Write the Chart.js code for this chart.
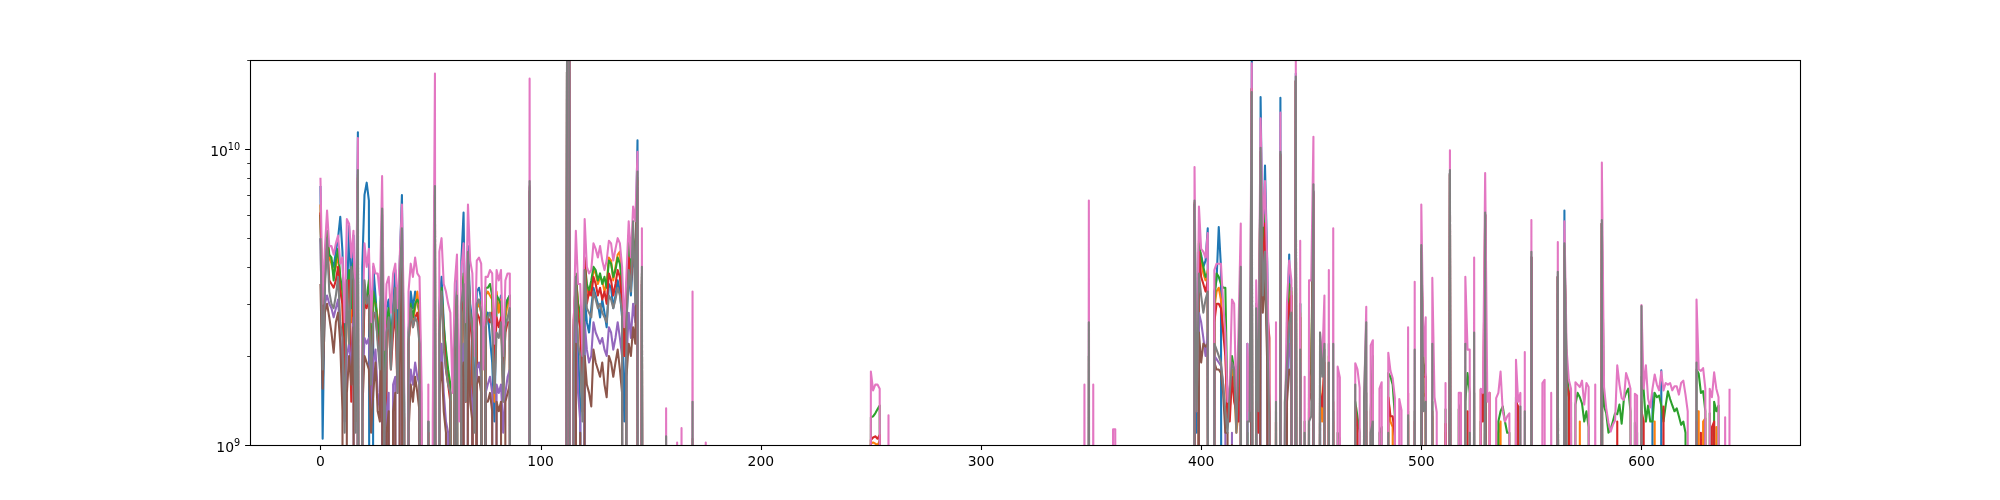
<!DOCTYPE html>
<html>
<head>
<meta charset="utf-8">
<script src="https://cdn.jsdelivr.net/npm/chart.js@4"></script>
<style>
  html, body { margin: 0; padding: 0; background: #fff; }
  #wrap { width: 2000px; height: 500px; }
</style>
</head>
<body>
<div id="wrap"><canvas id="chart" width="2000" height="500"></canvas></div>
<script>
// values are in units of 1e9, written as runs: [first x, [values...]]
// any x that is not listed is 0 (drawn clipped below the log axis, like matplotlib)
const xCount = 641;
const xTicks = [0, 100, 200, 300, 400, 500, 600];
const yMajor = [1e9, 1e10];
const yMinor = [2e9, 3e9, 4e9, 5e9, 6e9, 7e9, 8e9, 9e9, 2e10];

const blue = [
  [0, [7.5,1.05,3.6,4.8,4.3,4.2,4.0,4.5,5.0,5.9, 4.5,2.0,3.0,5.5,3.3,5.1,1.35,11.4,0,4.0, 7.0,7.7,6.7,0,4.0,3.2,2.5,2.2,5.5,0, 2.9,3.1,2.2,3.0,3.9,2.3,4.1,7.0,1.5,0, 2.4,3.3,2.9,3.3,3.0,2.8,0,0,0,1.2, 0,0,7.0,0,3.0,3.7,2.6,2.0,1.7,1.5, 0,2.5,3.6,0,4.2,6.1,1.6,4.7,3.0,2.6, 1.2,3.3,3.4,3.1,0,2.6,2.8,2.3,1.9,1.2, 3.1,2.9,3.2,1.5,3.0,3.1,3.2,0,0,0, 0,0,0,0,0,7.0,0]],
  [111, [0,25,26,0,1.5,3.0,2.1,1.35,0,3.2, 2.6,2.4,2.9,3.4,3.2,3.0,2.7,3.1,2.8,2.5, 3.5,3.4,2.9,3.2,3.6,3.3,2.7,1.2,2.6,3.8, 3.2,4.3,3.9,10.7,0,3.5,0]],
  [397, [6.5,1.1,4.6,4.4,4.0,4.2,5.4,0,0,3.3, 3.6,5.45,4.0,0,0,0,0,0,0,0, 0,1.0,0,0,2.2,0,22,0,2.7,0, 15.0,4.0,8.8,4.2,1.2,0,0,0,0,14.9, 0,0,2.3,4.4,1.19,0,18,0,3.0,0, 0,0,1.3,0,7.2,0,0,1.5,0,0, 0,0,0]],
  [500, [4.5]], [513, [8.3]], [529, [6.0]], [550, [4.3]], [562, [3.7]], [565, [6.2]], [582, [5.6]], [605, [1.5]], [609, [1.79]]
];

const orange = [
  [0, [6.5,2.5,4.0,5.0,4.3,4.1,3.8,4.0,4.4,3.6, 3.0,1.4,2.8,3.6,2.6,3.9,1.2,8.0,0,2.0, 3.2,3.0,3.5,1.7,3.1,3.0,2.7,2.0,5.0,1.1, 2.5,2.8,2.0,2.6,3.1,1.7,3.2,4.5,1.2,0, 2.2,2.9,2.6,2.9,3.3,2.7,0,0,0,1.1, 0,0,6.8,0,2.8,3.2,2.4,2.0,1.7,1.5, 0,2.3,3.2,0,2.9,3.7,1.4,4.0,2.7,2.4, 0,2.9,3.0,2.8,0,3.2,3.3,3.2,3.1,1.4, 3.3,2.8,3.1,1.4,2.7,3.0,3.1,0,0,0, 0,0,0,0,0,7.2,0]],
  [111, [0,25,26,0,2.4,3.7,3.0,2.6,1.3,4.1, 3.4,3.2,3.4,3.9,3.8,3.5,3.7,3.6,3.3,3.5, 4.3,4.2,3.6,4.0,4.4,4.5,3.4,2.0,3.2,4.6, 3.8,4.9,4.3,7.8,0,3.6,0]],
  [250, [1.01,1.02,1.01,1.0,1.03]],
  [397, [6.5,0,4.9,4.2,3.8,3.6,3.9,0,0,2.9, 3.3,3.4,3.1,2.5,2.2,1.2,1.3,1.8,1.6,1.1, 1.3,2.5,0,0,1.0,0,16,0,2.8,1.2, 9.5,3.8,5.5,3.0,1.2,0,0,1.2,0,9.5, 0,0,2.5,3.3,3.3,0,17,0,2.8,0, 0,0,1.5,1.6,7.0,0,0,1.6,1.2,1.9, 0,2.0,0]],
  [460, [1.2]], [470, [1.2]], [475, [1.2]], [478, [1.6]], [485, [1.45,1.2,1.15]], [494, [1.2]],
  [500, [4.5,1.5,1.45]], [505, [1.25]], [511, [1.1]], [513, [8.2]], [529, [6.0]], [535, [1.1,1.2]],
  [550, [4.3]], [562, [3.7]], [565, [4.6,1.55,1.45]], [572, [1.2]], [582, [5.6]], [600, [1.4]],
  [606, [1.2]], [625, [1.3,1.3]], [628, [1.2,1.23]], [634, [1.15]]
];

const green = [
  [0, [6.0,2.5,4.2,5.3,4.4,4.3,3.6,4.2,4.6,3.7, 3.3,1.8,3.2,3.9,2.9,4.1,1.5,8.2,0,1.8, 3.3,3.1,3.6,1.9,3.3,3.0,2.6,2.2,5.2,1.3, 2.6,2.9,2.1,2.7,3.2,1.9,3.4,4.6,1.4,0, 2.4,3.0,2.7,3.0,3.1,3.0,1.1,0,0,1.2, 0,0,7.0,0,2.9,3.4,2.5,2.1,1.8,1.6, 0,2.5,3.3,0,3.0,3.8,1.6,4.2,2.8,2.6, 0,3.0,3.1,2.9,0,3.4,3.4,3.5,3.2,1.6, 3.2,3.1,3.0,1.6,2.9,3.1,3.2,0,0,0, 0,0,0,0,0,7.2,0]],
  [111, [0,25,26,0,2.5,3.8,3.0,2.8,1.4,4.2, 3.5,3.3,3.6,4.0,3.9,3.6,3.8,3.5,3.7,3.4, 4.2,4.1,3.7,3.9,4.3,4.1,3.5,2.2,3.3,5.1, 3.9,5.0,4.4,8.0,0,3.8,0]],
  [250, [1.24,1.25,1.28,1.32,1.36]],
  [349, [2.0]],
  [397, [6.5,0,4.8,4.3,4.0,3.7,3.8,0,0,3.0, 3.8,3.7,3.5,3.4,3.4,1.3,1.4,2.0,1.8,1.2, 1.5,2.6,0,0,1.1,0,16,0,3.0,1.3, 9.8,4.3,6.0,3.4,1.3,0,0,1.3,0,9.6, 0,0,2.6,3.5,3.4,0,17,0,3.0,0, 1.2,0,1.7,1.8,7.1,0,0,1.8,1.85,2.1, 0,2.2,0]],
  [460, [1.3,0,1.1,1.05,0,0,0,0,0,0, 1.4,1.25,1.1,0,0,1.5,0,1.3,2.0,0, 0,1.1,1.15,0,0,1.75,1.7,1.6,1.25,0, 0,0,0,0,1.3,0,0,1.3,0,0, 4.6,1.9,1.7,0,0,1.4,0,0,0,0, 0,1.32,0,8.3,0,0,0,1.32,1.38,0, 1.4,1.75,1.5,0,1.5,0,0,1.2,0,6.0, 0,0,0,0,0,1.2,1.3,1.35,1.2,1.1, 1.1,0,0,1.45,1.2,0,0,0,0,0, 4.3,0,0,0,0,0,0,0,0,0, 0,0,3.7,0,0,4.7,1.82,1.5,1.4,0, 1.37,1.5,1.45,1.38,1.2,1.3,1.15,0,0,0, 0,0,5.6,1.35,1.28,1.1,1.13,1.2,1.28,1.27, 1.37,1.18,1.43,1.5,1.55,1.3,0,1.19,1.1,0, 1.7,1.53,1.2,1.36,1.2,1.2,1.5,1.45,1.47,1.36, 1.2,1.36,1.52,1.43,1.36,1.3,1.33,1.25,1.17,1.2, 1.1,0,0,0,0,1.8,1.74,1.5,1.52,1.3, 0,1.28,0,1.4,1.3,1.36,0,0,0,0, 0]]
];

const red = [
  [0, [6.1,2.4,3.8,5.0,3.6,3.5,3.4,3.6,4.0,3.3, 3.0,1.6,3.4,3.6,1.4,3.6,1.3,8.0,0,1.7, 3.0,2.9,3.2,1.5,2.8,2.7,2.3,1.9,5.0,0, 2.5,2.6,1.8,2.4,2.8,1.5,3.0,4.5,1.2,0, 2.2,2.8,2.5,2.7,2.8,2.4,0,0,0,1.1, 0,0,6.9,0,2.6,3.2,2.3,1.8,1.6,1.4, 0,2.2,3.0,0,2.8,3.3,1.4,4.1,2.6,2.2, 0,2.8,2.7,2.5,0,2.6,2.7,2.6,2.8,1.9, 2.7,2.5,2.7,1.7,2.4,2.6,2.6,0,0,0, 0,0,0,0,0,7.2,0]],
  [111, [0,25,26,0,2.65,3.6,2.7,2.5,1.3,4.3, 3.0,3.3,3.2,3.7,3.5,3.2,3.4,3.1,3.3,3.0, 3.8,3.6,3.2,3.5,3.9,3.7,3.0,2.0,2.8,4.3, 3.5,4.6,4.0,7.8,0,3.5,0]],
  [169, [1.05]],
  [250, [1.04,1.06,1.07,1.05,1.08]],
  [397, [6.6,0,4.5,3.7,3.5,3.3,3.6,0,0,2.6, 3.0,3.0,2.9,2.4,2.0,1.2,1.2,1.7,1.4,1.3, 1.2,2.2,0,0,1.0,0,16,0,2.0,1.1, 9.5,3.6,5.6,2.8,2.3,0,0,1.2,0,9.4, 0,0,2.2,3.0,3.2,0,17,0,2.7,0, 0,0,1.4,1.5,7.0,0,0,1.5,1.35,1.9, 0,1.9,0]],
  [460, [1.4]], [470, [1.35,1.15]], [475, [1.3]], [478, [1.6]], [485, [1.45,1.25,1.25,1.07]], [494, [1.5]],
  [497, [1.2]], [500, [4.5,1.7,1.7]], [505, [1.3]], [511, [1.18]], [513, [8.2]], [518, [1.1]], [521, [1.3]],
  [527, [1.54,1.2,6.0]], [531, [1.5]], [543, [1.4,1.35]], [550, [4.3]], [562, [3.7]], [565, [4.6,1.6,1.5]],
  [582, [5.6]], [589, [1.2]], [600, [1.3,1.2]], [610, [1.35]], [625, [1.2]], [627, [1.1]], [632, [1.15,1.2]]
];

const purple = [
  [0, [5.0,1.8,3.0,3.2,3.0,2.9,2.7,2.9,3.1,2.4, 1.6,1.2,2.0,2.2,1.8,2.7,0,7.5,0,1.5, 2.3,2.2,2.3,1.2,1.9,2.1,1.5,1.3,6.0,0, 1.3,1.5,0,1.6,1.7,0,2.0,4.5,0,0, 1.3,1.8,1.6,1.9,1.7,1.6,0,0,0,0, 0,0,7.2,0,1.7,2.2,1.5,1.2,1.1,0, 0,1.5,2.0,0,1.9,2.2,0,3.8,1.6,1.4, 0,1.8,1.9,1.7,0,1.5,1.6,1.7,1.5,0, 1.6,1.5,1.6,1.1,1.5,1.7,1.8,0,0,0, 0,0,0,0,0,7.4,0]],
  [111, [0,25,26,0,1.3,2.6,1.5,1.2,0,2.6, 2.1,1.9,2.0,2.6,2.4,2.3,2.2,2.3,2.1,2.0, 2.5,2.4,2.1,2.3,2.6,2.3,2.0,0,1.9,2.8, 2.3,3.0,2.6,7.5,0,3.6,0]],
  [397, [6.5,0,2.8,2.6,2.3,2.0,2.4,0,0,2.0, 1.95,1.9,1.85,1.6,1.2,0,0,1.1,0,0, 0,1.4,0,0,0,0,15.5,0,2.0,0, 9.6,3.1,4.5,2.2,0,0,0,0,0,9.5, 0,0,1.6,2.2,1.9,0,17,0,1.9,0, 0,0,0,0,7.1,0,0,1.3,0,0, 0,0,0]],
  [500, [4.4]], [513, [8.2]], [529, [6.0]], [550, [4.3]], [562, [3.7]], [565, [4.6]], [582, [5.6]]
];

const brown = [
  [0, [3.5,1.55,2.8,3.0,2.7,2.4,2.05,2.6,2.8,2.2, 1.3,0,1.5,2.0,1.6,2.5,0,7.8,0,1.3, 2.0,1.9,1.8,1.1,1.5,1.9,1.3,1.2,6.3,0, 1.1,1.3,0,1.3,1.5,0,1.8,4.0,0,0, 1.1,1.6,1.4,1.7,1.5,1.3,0,0,0,0, 0,0,7.3,0,1.5,1.9,1.3,1.1,0,0, 0,1.3,1.7,0,1.7,1.9,0,3.5,1.4,1.2, 0,1.6,1.7,1.5,0,1.4,1.4,1.5,1.3,0, 1.4,1.3,1.4,0,1.4,1.5,1.6,0,0,0, 0,0,0,0,0,7.5,0]],
  [111, [0,25,26,0,1.2,2.2,0,1.1,0,2.0, 1.6,1.5,1.35,2.1,1.9,1.8,1.7,1.9,1.6,1.45, 2.0,1.9,1.7,1.9,2.1,1.8,1.5,0,1.7,2.2, 2.0,2.5,2.2,7.4,0,3.7,0]],
  [397, [6.5,0,2.4,1.9,2.2,2.15,2.2,0,0,1.9, 1.8,1.8,1.75,1.5,1.1,1.1,0,1.0,0,0, 0,1.3,0,0,0,0,15.5,0,2.6,0, 9.8,2.8,3.8,1.9,0,0,0,0,0,9.6, 0,0,1.4,1.8,1.7,0,17,0,1.7,0, 0,0,0,0,7.2,0,0,1.2,0,0, 0,0,0]],
  [500, [4.4]], [513, [8.3]], [529, [6.0]], [550, [4.3]], [562, [3.7]], [565, [4.6]], [582, [5.6]]
];

const pink = [
  [0, [8.0,3.0,4.6,6.2,4.7,4.7,4.4,4.8,5.1,4.1, 4.3,2.6,5.8,5.6,4.3,5.3,2.2,10.9,0,2.2, 4.8,4.0,4.6,2.6,4.1,3.8,3.8,3.2,8.1,2.1, 3.5,3.7,2.8,3.8,4.1,2.9,4.3,6.5,2.5,0, 3.3,4.1,3.7,4.3,3.8,3.7,1.5,0,0,1.6, 0,1.2,18.0,0,4.5,5.0,3.5,3.3,3.0,2.8, 1.5,3.5,4.4,1.2,3.9,4.8,2.6,6.5,4.2,3.8, 2.0,4.2,4.3,4.1,1.8,3.7,3.7,3.9,3.8,2.2, 3.9,3.6,3.9,2.0,3.6,3.8,3.8,0,0,0, 0,0,0,0,0,17.3,0]],
  [111, [0,28,30,0,2.5,5.3,3.5,3.5,2.0,5.8, 4.0,3.8,3.9,4.8,4.6,4.3,4.7,4.2,3.9,4.2, 4.9,4.8,4.2,4.6,5.0,4.8,4.0,2.5,3.8,5.7, 4.3,6.4,5.7,9.8,0,5.4,0]],
  [157, [1.33]], [162, [1.02]], [164, [1.14]], [169, [3.3]], [175, [1.02]],
  [250, [1.77,1.53,1.6,1.6,1.55]], [258, [1.26]],
  [347, [1.6]], [349, [6.7]], [351, [1.6]], [360, [1.13,1.13]],
  [397, [8.7,1.3,6.4,4.6,4.5,4.3,5.2,0,0,3.9, 4.1,4.1,4.1,3.0,2.4,1.4,1.6,3.1,3.0,1.3, 2.5,5.6,0,0,2.2,1.3,19.5,0,3.6,1.8, 12.7,5.5,7.8,4.1,1.6,0,0,2.6,0,13.3, 0,1.1,3.05,4.2,3.6,0,20.5,0,4.9,0, 1.7,0,3.6,3.6,11.0,0,0,2.4,1.9,3.2, 0,3.9,0]],
  [460, [5.4,0,1.84,1.69,0,0,0,0,0,0, 1.89,1.8,1.56,0,1.4,2.93,0,2.17,2.26,0, 0,1.55,1.63,0,0,2.05,1.78,1.68,1.44,0, 1.43,1.31,0,0,2.5,0,0,3.56,0,0, 6.5,2.0,2.7,0,0,3.67,1.45,1.29,0,0, 0,1.62,0,9.9,0,0,0,1.5,1.5,0, 3.7,2.1,2.1,0,4.3,0,0,1.55,1.5,8.3, 1.4,1.5,0,0,1.44,1.5,1.77,1.3,1.2,1.25, 1.28,0,0,1.94,1.4,1.5,0,2.06,0,0, 5.76,0,0,0,0,1.62,1.66,0,0,1.5, 0,0,4.85,0,0,5.7,2.1,1.66,1.55,0, 1.63,1.6,1.57,1.65,1.37,1.62,1.57,0,0,1.6, 0,0,9.0,1.57,1.33,1.19,1.11,1.17,1.21,1.86, 1.6,1.44,1.42,1.75,1.66,1.55,0,1.49,1.47,0, 2.97,1.55,1.86,1.43,1.34,1.55,1.73,1.6,1.53,1.77, 1.53,1.62,1.6,1.62,1.53,1.58,1.58,1.48,1.62,1.65, 1.48,1.3,0,0,0,3.1,1.8,1.78,1.82,1.55, 0,1.55,1.45,1.76,1.55,1.45,0,0,1.24,0, 1.55]]
];

const gray = [
  [0, [5.0,1.8,3.4,5.0,3.3,3.0,2.9,3.2,3.7,2.6, 2.3,1.1,3.6,2.2,4.0,3.6,1.1,8.5,0,1.8, 3.6,3.0,3.2,1.6,2.8,2.8,2.2,1.8,6.3,1.0, 2.4,2.7,1.8,2.8,3.4,1.5,3.6,5.4,1.3,0, 2.2,2.9,2.5,2.7,2.6,2.2,0,0,0,1.2, 0,0,7.5,0,2.4,3.3,2.1,1.8,1.6,1.5, 0,2.1,3.2,0,3.0,3.5,1.4,4.5,2.8,2.4, 1.1,3.0,3.1,2.8,0,2.5,2.7,2.8,2.5,1.5, 2.4,2.3,2.6,1.4,2.5,2.7,2.9,0,0,0, 0,0,0,0,0,7.8,0]],
  [111, [0,26,27,0,1.8,3.7,2.2,2.0,1.2,3.9, 2.9,2.8,2.7,3.3,3.1,2.9,3.0,2.8,2.7,2.6, 3.2,3.1,2.9,3.1,3.4,3.2,2.8,0,2.6,3.9, 3.3,5.7,3.0,8.4,0,4.0,0]],
  [157, [1.07]], [169, [1.4]], [349, [2.6]],
  [397, [6.7,1.3,3.8,3.2,2.8,3.1,3.3,0,0,2.2, 2.1,2.0,1.9,1.6,1.3,1.1,1.5,1.9,1.8,1.1, 2.0,4.0,0,0,1.2,1.2,15.6,0,2.9,1.3, 10.1,3.2,4.5,2.4,1.2,0,0,1.4,0,9.8, 0,1.39,1.9,2.6,2.8,0,17.6,0,2.1,0, 1.1,0,1.2,1.25,7.6,0,0,2.4,1.7,2.2, 0,1.9,0]],
  [460, [2.2]], [470, [1.6]], [474, [1.45,2.6]], [477, [1.1,1.2]], [485, [1.1]], [494, [1.26]], [497, [2.1]],
  [500, [4.74,1.3,1.4]], [505, [2.2]], [513, [8.5]], [520, [2.2]], [522, [1.1]], [524, [2.4]], [529, [6.1]],
  [545, [1.35]], [547, [1.3]], [550, [4.5]], [562, [3.85]], [565, [4.8,1.7]], [582, [5.76]], [600, [2.95]], [625, [1.9]]
];

const seriesList = [blue, orange, green, red, purple, brown, pink, gray];
const colors = ['#1f77b4', '#ff7f0e', '#2ca02c', '#d62728', '#9467bd', '#8c564b', '#e377c2', '#7f7f7f'];

// zero values are clipped far below the axis, as matplotlib does on a log axis
const FLOOR = 1e3;
const xs = [];
for (let i = 0; i < xCount; i++) xs.push(i);

function expand(runs) {
  const vals = new Map();
  runs.forEach(([x0, list]) => list.forEach((v, i) => vals.set(x0 + i, v)));
  return xs.map(x => {
    const v = vals.get(x) || 0;
    return { x: x, y: v > 0 ? v * 1e9 : FLOOR };
  });
}

const FONT = '"DejaVu Sans", sans-serif';

const axesPlugin = {
  id: 'axesPlugin',
  afterDraw(chart) {
    const { ctx, chartArea: a, scales } = chart;
    const x = scales.x, y = scales.y;
    ctx.save();
    ctx.strokeStyle = '#000';
    ctx.fillStyle = '#000';

    // frame
    ctx.lineWidth = 1.1;
    ctx.strokeRect(Math.round(a.left) + 0.5, Math.round(a.top) + 0.5,
      Math.round(a.right - a.left), Math.round(a.bottom - a.top));

    // major ticks
    ctx.beginPath();
    xTicks.forEach(v => {
      const px = Math.round(x.getPixelForValue(v)) + 0.5;
      ctx.moveTo(px, a.bottom);
      ctx.lineTo(px, a.bottom + 4.9);
    });
    yMajor.forEach(v => {
      const py = Math.round(y.getPixelForValue(v)) + 0.5;
      ctx.moveTo(a.left, py);
      ctx.lineTo(a.left - 4.9, py);
    });
    ctx.stroke();

    // minor ticks
    ctx.lineWidth = 0.8;
    ctx.beginPath();
    yMinor.forEach(v => {
      const py = Math.round(y.getPixelForValue(v)) + 0.5;
      ctx.moveTo(a.left, py);
      ctx.lineTo(a.left - 2.8, py);
    });
    ctx.stroke();

    // x labels
    ctx.font = '13.9px ' + FONT;
    ctx.textAlign = 'center';
    ctx.textBaseline = 'alphabetic';
    xTicks.forEach(v => {
      ctx.fillText(String(v), x.getPixelForValue(v), a.bottom + 20.5);
    });

    // y labels as 10 with a raised exponent
    ctx.textAlign = 'left';
    yMajor.forEach(v => {
      const exp = String(Math.round(Math.log10(v)));
      const py = y.getPixelForValue(v);
      const right = a.left - 9.8;
      ctx.font = '9.7px ' + FONT;
      const ew = ctx.measureText(exp).width;
      ctx.font = '13.9px ' + FONT;
      const bw = ctx.measureText('10').width;
      ctx.fillText('10', right - ew - bw, py + 7);
      ctx.font = '9.7px ' + FONT;
      ctx.fillText(exp, right - ew, py + 0.5);
    });
    ctx.restore();
  }
};

new Chart(document.getElementById('chart').getContext('2d'), {
  type: 'line',
  data: {
    datasets: seriesList.map((runs, i) => ({
      label: 'series ' + i,
      data: expand(runs),
      borderColor: colors[i],
      borderWidth: 2.08,
      borderJoinStyle: 'round',
      pointRadius: 0,
      fill: false,
      tension: 0,
      clip: 0,
      order: seriesList.length - i,
    })),
  },
  options: {
    responsive: false,
    animation: false,
    events: [],
    layout: { padding: { left: 250, right: 200, top: 60, bottom: 55 } },
    plugins: { legend: { display: false }, tooltip: { enabled: false } },
    scales: {
      x: { type: 'linear', min: -32, max: 672, display: false },
      y: { type: 'logarithmic', min: 1e9, max: 2e10, display: false },
    },
  },
  plugins: [axesPlugin],
});
</script>
</body>
</html>
